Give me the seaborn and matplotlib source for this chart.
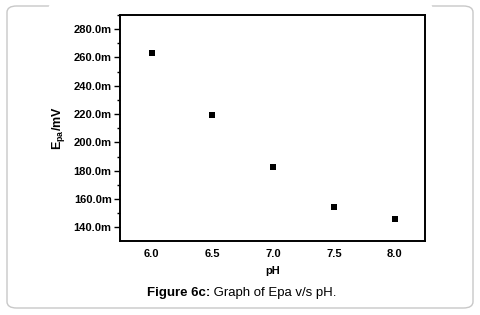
import matplotlib
matplotlib.use("Agg")
import matplotlib.pyplot as plt
import seaborn as sns
import pandas as pd
from matplotlib import font_manager
from matplotlib.ticker import MultipleLocator, FuncFormatter
from matplotlib.patches import FancyBboxPatch
from matplotlib.lines import Line2D

ph = [6.0, 6.5, 7.0, 7.5, 8.0]
epa = [263.5, 219.6, 182.8, 154.1, 145.8]
x_ticks = [6.0, 6.5, 7.0, 7.5, 8.0]

# keep the narrow variant from being picked for bold text
font_manager.fontManager.ttflist = [f for f in font_manager.fontManager.ttflist
                                    if 'Narrow' not in f.fname]

sns.set_style("white", {'text.color': 'black', 'axes.labelcolor': 'black',
                        'xtick.color': 'black', 'ytick.color': 'black'})
plt.rcParams['font.family'] = ['Liberation Sans', 'DejaVu Sans']
plt.rcParams['mathtext.fontset'] = 'custom'
plt.rcParams['mathtext.rm'] = 'Liberation Sans:bold'
plt.rcParams['mathtext.bf'] = 'Liberation Sans:bold'

df = pd.DataFrame({'pH': ph, 'Epa': epa})

fig = plt.figure(figsize=(4.8, 3.15), dpi=100)
ax = fig.add_axes([120 / 480, 1 - 241 / 315, 305 / 480, 226 / 315])

sns.scatterplot(data=df, x='pH', y='Epa', marker='s', color='black',
                s=14, edgecolor='black', linewidth=0, ax=ax, zorder=3)

ax.set_xlim(5.74, 8.25)
ax.set_ylim(130.3, 290.0)
ax.set_xticks(x_ticks)
ax.yaxis.set_major_locator(MultipleLocator(20))
ax.yaxis.set_minor_locator(MultipleLocator(10))
ax.yaxis.set_major_formatter(FuncFormatter(lambda v, p: f"{v:.1f}m"))
ax.tick_params(axis='y', which='major', direction='out', length=4, width=1,
               labelsize=8, pad=2, left=True, colors='black')
ax.tick_params(axis='y', which='minor', direction='out', length=2, width=1,
               left=True, colors='black')
ax.tick_params(axis='x', length=0, labelsize=8, pad=6, colors='black')
for lab in ax.get_xticklabels() + ax.get_yticklabels():
    lab.set_fontweight('bold')

for sp in ax.spines.values():
    sp.set_linewidth(1.4)
    sp.set_color('black')

ax.set_xlabel('pH', fontsize=8, fontweight='bold', labelpad=5, color='black')
ax.set_ylabel(r'E$_{\mathrm{pa}}$/mV', fontsize=9, fontweight='bold', labelpad=5,
              color='black')

# caption
cap_y = 1 - 293 / 315
fig.text(210 / 480, cap_y, 'Figure 6c:', fontsize=9.5, fontweight='bold',
         ha='right', va='center', color='black')
fig.text(210 / 480, cap_y, ' Graph of Epa v/s pH.', fontsize=9.5,
         ha='left', va='center', color='black')

# rounded frame
box = FancyBboxPatch((7 / 480, 1 - 308 / 315), 466 / 480, 302 / 315,
                     boxstyle="round,pad=0,rounding_size=0.02",
                     transform=fig.transFigure, facecolor='none',
                     edgecolor='#c8c8c8', linewidth=1.0)
fig.patches.append(box)
fig.lines.append(Line2D([50 / 480, 430 / 480], [1 - 6 / 315, 1 - 6 / 315],
                        transform=fig.transFigure, color='white', linewidth=2.5))

fig.savefig('out.png', dpi=100)
